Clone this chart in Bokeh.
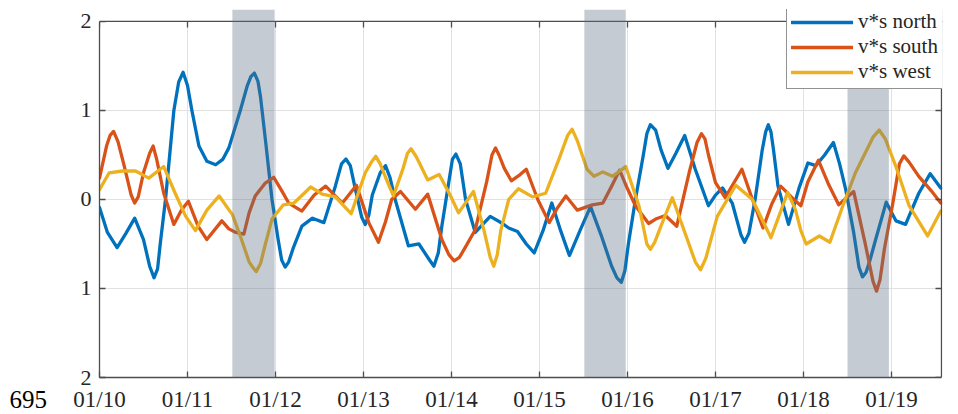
from bokeh.plotting import figure
from bokeh.models import (FixedTicker, BoxAnnotation, Legend, LegendItem, Range1d, Span, Title)
from bokeh.embed import file_html
from bokeh.resources import INLINE

# ---- data (days since 01/10, value) ----
north_d = [0.00, 0.09, 0.20, 0.30, 0.40, 0.50, 0.57, 0.62, 0.66, 0.69, 0.75, 0.845, 0.90, 0.95, 1.00, 1.05,
           1.13, 1.22, 1.32, 1.40, 1.47, 1.60, 1.68, 1.72, 1.76, 1.80, 1.83, 1.89, 1.96, 2.03, 2.07, 2.11,
           2.15, 2.20, 2.30, 2.42, 2.55, 2.68, 2.75, 2.80, 2.85, 2.90, 2.98, 3.02, 3.06, 3.10, 3.19, 3.25,
           3.30, 3.36, 3.51, 3.63, 3.75, 3.80, 3.85, 3.89, 3.97, 4.01, 4.05, 4.10, 4.16, 4.27, 4.44, 4.58,
           4.65, 4.75, 4.85, 4.94, 5.04, 5.14, 5.24, 5.34, 5.46, 5.58, 5.70, 5.82, 5.88, 5.93, 5.97, 6.01,
           6.09, 6.18, 6.22, 6.26, 6.32, 6.38, 6.46, 6.55, 6.65, 6.77, 6.92, 7.00, 7.08, 7.19, 7.29, 7.33,
           7.38, 7.45, 7.53, 7.57, 7.60, 7.63, 7.66, 7.71, 7.83, 7.95, 8.05, 8.14, 8.24, 8.34, 8.41, 8.48,
           8.57, 8.63, 8.67, 8.71, 8.75, 8.82, 8.94, 9.05, 9.16, 9.31, 9.44, 9.56]
north_v = [-0.09, -0.37, -0.54, -0.38, -0.21, -0.45, -0.75, -0.88, -0.78, -0.50, 0.00, 1.00, 1.32, 1.43, 1.28, 1.00,
           0.60, 0.43, 0.39, 0.45, 0.58, 1.00, 1.28, 1.38, 1.42, 1.33, 1.15, 0.63, 0.00, -0.45, -0.68, -0.76,
           -0.70, -0.55, -0.30, -0.21, -0.26, 0.15, 0.40, 0.455, 0.38, 0.15, -0.20, -0.28, -0.18, 0.05, 0.30, 0.38,
           0.25, 0.00, -0.52, -0.50, -0.68, -0.75, -0.60, -0.30, 0.20, 0.45, 0.51, 0.40, 0.00, -0.37, -0.19, -0.27,
           -0.32, -0.36, -0.50, -0.60, -0.35, -0.04, -0.35, -0.63, -0.35, -0.08, -0.40, -0.75, -0.88, -0.93, -0.80, -0.50,
           0.00, 0.50, 0.74, 0.84, 0.78, 0.56, 0.35, 0.52, 0.72, 0.34, -0.07, 0.05, 0.13, -0.04, -0.40, -0.48,
           -0.38, 0.00, 0.55, 0.76, 0.84, 0.76, 0.55, 0.15, -0.28, 0.13, 0.41, 0.38, 0.50, 0.64, 0.40, 0.11,
           -0.37, -0.76, -0.87, -0.82, -0.70, -0.45, -0.03, -0.24, -0.28, 0.07, 0.29, 0.13]

south_d = [0.00, 0.08, 0.12, 0.16, 0.21, 0.28, 0.36, 0.40, 0.44, 0.50, 0.57, 0.61, 0.65, 0.73, 0.845, 0.93,
           1.01, 1.12, 1.22, 1.39, 1.47, 1.55, 1.64, 1.70, 1.77, 1.88, 1.98, 2.07, 2.15, 2.30, 2.44, 2.57,
           2.76, 2.92, 3.06, 3.17, 3.25, 3.32, 3.42, 3.59, 3.73, 3.89, 3.97, 4.03, 4.09, 4.15, 4.27, 4.40,
           4.46, 4.50, 4.54, 4.60, 4.68, 4.78, 4.85, 4.98, 5.11, 5.20, 5.30, 5.43, 5.60, 5.72, 5.82, 5.91,
           6.00, 6.09, 6.24, 6.32, 6.43, 6.56, 6.70, 6.79, 6.84, 6.88, 6.92, 7.00, 7.11, 7.30, 7.42, 7.54,
           7.64, 7.74, 7.87, 7.97, 8.05, 8.17, 8.28, 8.40, 8.57, 8.70, 8.79, 8.83, 8.87, 8.92, 9.01, 9.09,
           9.14, 9.20, 9.31, 9.45, 9.56]
south_v = [0.24, 0.60, 0.72, 0.765, 0.65, 0.38, 0.05, -0.04, 0.03, 0.30, 0.52, 0.60, 0.45, 0.07, -0.28, -0.12,
           -0.02, -0.30, -0.45, -0.24, -0.33, -0.37, -0.39, -0.15, 0.04, 0.18, 0.25, 0.10, -0.04, -0.13, 0.05, 0.15,
           -0.04, 0.16, -0.26, -0.48, -0.25, 0.00, 0.09, -0.11, 0.06, -0.45, -0.62, -0.69, -0.65, -0.55, -0.34, 0.20,
           0.50, 0.58, 0.50, 0.35, 0.21, 0.28, 0.34, 0.00, -0.26, -0.10, 0.04, -0.12, -0.06, -0.04, 0.15, 0.33,
           0.12, -0.07, -0.27, -0.22, -0.18, -0.30, 0.30, 0.64, 0.74, 0.68, 0.50, 0.19, 0.02, 0.34, 0.00, -0.32,
           -0.05, 0.15, 0.02, -0.07, 0.20, 0.44, 0.18, -0.06, 0.09, -0.49, -0.92, -1.03, -0.90, -0.55, -0.07, 0.40,
           0.49, 0.42, 0.26, 0.10, -0.04]

west_d = [0.00, 0.11, 0.26, 0.41, 0.56, 0.73, 0.86, 0.98, 1.09, 1.22, 1.36, 1.51, 1.60, 1.70, 1.74, 1.78,
          1.83, 1.88, 1.96, 2.09, 2.21, 2.40, 2.53, 2.68, 2.86, 3.02, 3.09, 3.14, 3.19, 3.25, 3.34, 3.45,
          3.50, 3.54, 3.60, 3.73, 3.86, 3.99, 4.08, 4.25, 4.37, 4.44, 4.48, 4.52, 4.56, 4.65, 4.76, 4.92,
          5.07, 5.22, 5.32, 5.37, 5.43, 5.54, 5.62, 5.72, 5.83, 5.98, 6.13, 6.22, 6.26, 6.31, 6.38, 6.51,
          6.68, 6.77, 6.83, 6.89, 7.02, 7.23, 7.42, 7.63, 7.82, 7.91, 7.97, 8.03, 8.18, 8.30, 8.44, 8.59,
          8.79, 8.86, 8.93, 9.05, 9.20, 9.41, 9.56]
west_v = [0.11, 0.30, 0.32, 0.32, 0.24, 0.37, 0.07, -0.19, -0.35, -0.12, 0.04, -0.17, -0.41, -0.70, -0.76, -0.81,
          -0.72, -0.52, -0.22, -0.06, -0.04, 0.14, 0.06, 0.03, -0.16, 0.30, 0.42, 0.485, 0.40, 0.25, 0.04, 0.35,
          0.52, 0.57, 0.48, 0.22, 0.28, 0.04, -0.15, 0.09, -0.35, -0.65, -0.75, -0.62, -0.35, 0.00, 0.12, 0.03,
          0.07, 0.45, 0.72, 0.79, 0.66, 0.34, 0.26, 0.31, 0.26, 0.37, -0.07, -0.50, -0.56, -0.48, -0.30, 0.02,
          -0.45, -0.70, -0.79, -0.66, -0.19, 0.16, 0.00, -0.43, 0.08, -0.12, -0.35, -0.50, -0.41, -0.48, -0.09, 0.30,
          0.70, 0.78, 0.68, 0.37, -0.07, -0.41, -0.13]

x_ticks = [0, 1, 2, 3, 4, 5, 6, 7, 8, 9]
x_labels = ["01/10", "01/11", "01/12", "01/13", "01/14", "01/15", "01/16", "01/17", "01/18", "01/19"]
y_ticks = [-2, -1, 0, 1, 2]
y_labels = ["2", "1", "0", "1", "2"]
shade_start = [1.51, 5.51, 8.50]
shade_end = [1.99, 5.98, 8.97]
series_names = ["v*s north", "v*s south", "v*s west"]
series_colors = ["#0072BD", "#D95319", "#EDB120"]
page_number = "695"

FONT = "Liberation Serif"
AX = "#4d4d4d"
X_END = 9.568           # last plotted day (right edge of the box)
Y_TOP = 2.1345          # small strip above the box (shaded bands reach into it)
TICK_X = 6 / 88         # inward tick length in data units
TICK_Y = 6 / 89.25

p = figure(width=958, height=414, output_backend="svg", toolbar_location=None,
           x_range=Range1d(0, 9.5795), y_range=Range1d(-2, Y_TOP),
           min_border_left=99, min_border_right=16, min_border_top=9, min_border_bottom=36)
p.outline_line_color = None

p.xaxis.ticker = FixedTicker(ticks=x_ticks)
p.yaxis.ticker = FixedTicker(ticks=y_ticks)
p.xaxis.major_label_overrides = {t: l for t, l in zip(x_ticks, x_labels)}
p.yaxis.major_label_overrides = {t: l for t, l in zip(y_ticks, y_labels)}
p.yaxis.bounds = (-2, 2)
p.xaxis.bounds = (0, X_END)
for ax in p.axis:
    ax.axis_line_color = AX
    ax.axis_line_width = 1.3
    ax.major_tick_line_color = AX
    ax.major_tick_line_width = 1.3
    ax.major_tick_in = 6
    ax.major_tick_out = 0
    ax.minor_tick_line_color = None
    ax.major_label_text_font = FONT
    ax.major_label_text_color = "#262626"
p.xaxis.major_label_text_font_size = "23px"
p.xaxis.major_label_standoff = 9
p.yaxis.major_label_text_font_size = "22px"
p.yaxis.major_label_standoff = 8

p.xgrid.ticker = FixedTicker(ticks=x_ticks)
p.ygrid.ticker = FixedTicker(ticks=y_ticks)
p.grid.grid_line_color = "#e1e1e1"
p.grid.grid_line_width = 1

renderers = []
for xs, ys, c in zip([north_d, south_d, west_d], [north_v, south_v, west_v], series_colors):
    r = p.line(xs, ys, line_color=c, line_width=3.3, line_join="round", line_cap="round")
    renderers.append(r)

# right edge of the box, then the blank strip above the box, then its top edge
p.add_layout(Span(location=X_END, dimension="height", line_color=AX, line_width=1.3))
p.add_layout(BoxAnnotation(bottom=2, fill_color="white", fill_alpha=1, line_color=None))
p.add_layout(Span(location=2, dimension="width", line_color=AX, line_width=1.3))
# inward ticks on the top and right edges
p.segment(x0=x_ticks, y0=[2] * len(x_ticks), x1=x_ticks, y1=[2 - TICK_Y] * len(x_ticks),
          line_color=AX, line_width=1.3)
p.segment(x0=[X_END] * len(y_ticks), y0=y_ticks, x1=[X_END - TICK_X] * len(y_ticks), y1=y_ticks,
          line_color=AX, line_width=1.3)

for s, e in zip(shade_start, shade_end):
    p.add_layout(BoxAnnotation(left=s, right=e, fill_color="#5c6e86", fill_alpha=0.36, line_color=None))

legend = Legend(items=[LegendItem(label=n, renderers=[r]) for n, r in zip(series_names, renderers)],
                location=(687, 288))
legend.label_text_font = FONT
legend.label_text_font_size = "21px"
legend.label_text_color = "#262626"
legend.glyph_width = 62
legend.glyph_height = 24
legend.label_height = 24
legend.label_standoff = 5
legend.padding = 4
legend.spacing = 0
legend.margin = 0
legend.border_line_color = "#262626"
legend.border_line_width = 1
legend.background_fill_color = "white"
legend.background_fill_alpha = 1
p.add_layout(legend)

p.add_layout(Title(text=page_number, align="left", vertical_align="top", offset=-90, standoff=-47,
                   text_font=FONT, text_font_size="25px", text_font_style="normal",
                   text_color="black"), "below")

open("out.html", "w").write(file_html(p, INLINE))
